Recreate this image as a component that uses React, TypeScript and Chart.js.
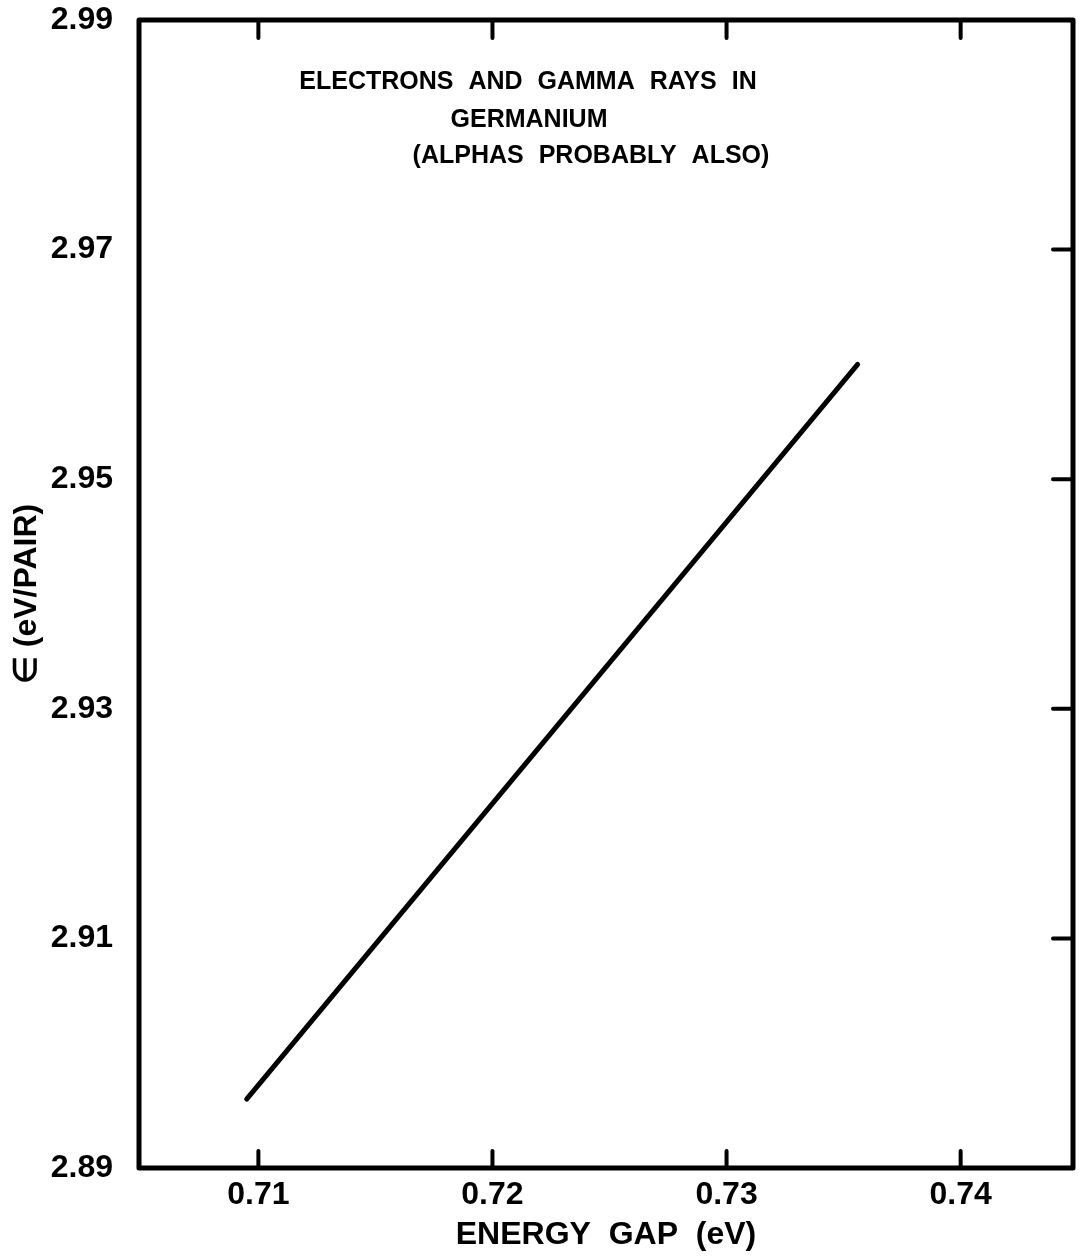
import { useEffect, useRef } from "react";
import { Chart, registerables } from "chart.js";

Chart.register(...registerables);

// ---- data ----
const energyGap = [0.7095, 0.7356]; // eV (line end points)
const epsilon = [2.896, 2.96]; // eV/pair
const xTicks = [0.71, 0.72, 0.73, 0.74];
const xTickLabels = ["0.71", "0.72", "0.73", "0.74"];
const yTicks = [2.89, 2.91, 2.93, 2.95, 2.97, 2.99];
const yTickLabels = ["2.89", "2.91", "2.93", "2.95", "2.97", "2.99"];
const xRange = [0.7049, 0.7448];
const yRange = [2.89, 2.99];
const titleLines = [
  "ELECTRONS AND GAMMA RAYS IN",
  "GERMANIUM",
  "(ALPHAS PROBABLY ALSO)",
];
const xTitle = "ENERGY  GAP  (eV)";
const yTitle = "∈ (eV/PAIR)";

const FONT = "'Liberation Sans', Arial, sans-serif";

const framePlugin = {
  id: "frame",
  afterDraw(chart: any) {
    const { ctx, chartArea: a, scales } = chart;
    ctx.save();
    ctx.strokeStyle = "#000";
    ctx.lineWidth = 5;
    ctx.lineJoin = "round";
    ctx.strokeRect(a.left, a.top, a.right - a.left, a.bottom - a.top);
    ctx.lineWidth = 4;
    ctx.lineCap = "round";
    ctx.beginPath();
    xTicks.forEach((v) => {
      const px = scales.x.getPixelForValue(v);
      ctx.moveTo(px, a.top);
      ctx.lineTo(px, a.top + 18);
      ctx.moveTo(px, a.bottom);
      ctx.lineTo(px, a.bottom - 17);
    });
    yTicks.slice(1, -1).forEach((v) => {
      const py = scales.y.getPixelForValue(v);
      ctx.moveTo(a.right, py);
      ctx.lineTo(a.right - 20, py);
    });
    ctx.stroke();

    // annotation text inside the plot
    ctx.fillStyle = "#000";
    ctx.font = `bold 25px ${FONT}`;
    ctx.textAlign = "center";
    ctx.textBaseline = "middle";
    (ctx as any).wordSpacing = "8px";
    const cx = [528, 529, 591];
    const cy = [82, 120, 156];
    titleLines.forEach((t, i) => ctx.fillText(t, cx[i], cy[i]));
    ctx.restore();
  },
};

export default function App() {
  const ref = useRef<HTMLCanvasElement>(null);
  useEffect(() => {
    if (!ref.current) return;
    const chart = new Chart(ref.current, {
      type: "scatter",
      data: {
        datasets: [
          {
            data: energyGap.map((x, i) => ({ x, y: epsilon[i] })),
            showLine: true,
            borderColor: "#000",
            borderWidth: 5,
            borderCapStyle: "round",
            pointRadius: 0,
            fill: false,
          },
        ],
      },
      options: {
        responsive: false,
        animation: false,
        layout: { padding: { top: 20, right: 9, left: 0, bottom: 0 } },
        plugins: {
          legend: { display: false },
          tooltip: { enabled: false },
        },
        scales: {
          x: {
            type: "linear",
            min: xRange[0],
            max: xRange[1],
            grid: { display: false, drawTicks: false },
            border: { display: false },
            afterBuildTicks: (s: any) => {
              s.ticks = xTicks.map((value) => ({ value }));
            },
            afterFit: (s: any) => {
              s.height = 89;
              s.paddingLeft = 0;
              s.paddingRight = 0;
            },
            ticks: {
              autoSkip: false,
              maxRotation: 0,
              padding: 8,
              color: "#000",
              font: { family: FONT, size: 32, weight: "bold" },
              callback: (v: any) => xTickLabels[xTicks.indexOf(Number(v))] ?? "",
            },
            title: {
              display: true,
              text: xTitle,
              color: "#000",
              font: { family: FONT, size: 32, weight: "bold" },
              padding: { top: 0, bottom: 3 },
            },
          },
          y: {
            type: "linear",
            min: yRange[0],
            max: yRange[1],
            grid: { display: false, drawTicks: false },
            border: { display: false },
            afterBuildTicks: (s: any) => {
              s.ticks = yTicks.map((value) => ({ value }));
            },
            afterFit: (s: any) => {
              s.width = 139;
              s.paddingTop = 0;
              s.paddingBottom = 0;
            },
            ticks: {
              autoSkip: false,
              padding: 26,
              color: "#000",
              font: { family: FONT, size: 32, weight: "bold" },
              callback: (v: any) => yTickLabels[yTicks.indexOf(Number(v))] ?? "",
            },
            title: {
              display: true,
              text: yTitle,
              color: "#000",
              font: { family: FONT, size: 32, weight: "bold" },
              padding: { top: 8, bottom: 0 },
            },
          },
        },
      },
      plugins: [framePlugin],
    } as any);
    return () => chart.destroy();
  }, []);
  return (
    <div style={{ position: "absolute", left: 0, top: 0, width: 1082, height: 1257, background: "#fff" }}>
      <canvas ref={ref} width={1082} height={1257} style={{ display: "block" }} />
    </div>
  );
}
